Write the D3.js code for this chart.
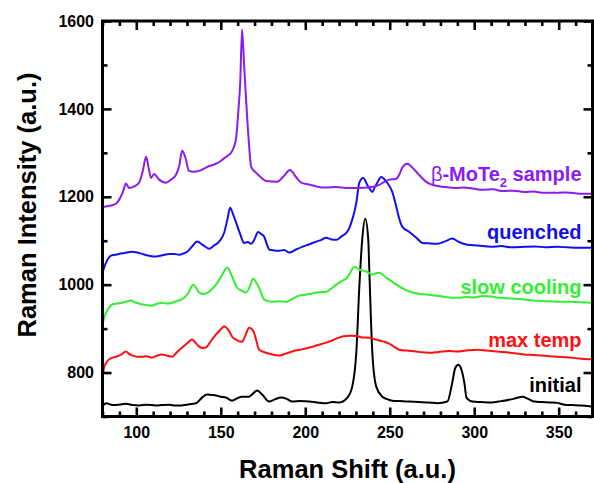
<!DOCTYPE html>
<html>
<head>
<meta charset="utf-8">
<script src="https://cdn.jsdelivr.net/npm/d3@7"></script>
<style>
  html, body { margin: 0; padding: 0; background: #fff; }
  svg { display: block; font-family: Arial, "Liberation Sans", sans-serif; }
</style>
</head>
<body>
<svg id="chart" width="594" height="483"></svg>
<script>
// Raman spectra: [shift, intensity] pairs for each sample state
const initial = [
  [80,723],[82.1,730],[86,726],[89.8,727],[94,729],[98,726],[101.6,725],[106,727],[111.7,725],
  [115,726],[119.4,727],[122,725],[125.3,725],[130,727],[135.4,730],[138.9,743],[141.9,750],
  [144.5,749],[147.2,748],[150,745],[153.2,743],[156.7,736],[159.5,741],[162.6,745],[166.8,745],
  [169,752],[171.5,759],[174.5,750],[178.6,734],[182,739],[185.7,743],[189,740],[192.3,734],
  [197,735],[202.4,734],[207,732],[212.4,730],[216,733],[220.2,732],[224.9,743],[227.8,768],
  [230.2,845],[232,995],[233.7,1102],[235.5,1150],[237.3,1102],[237.9,1034],[239.7,845],
  [242,768],[245.6,745],[248,740],[251.5,736],[256,735],[261.6,734],[267,733],[273.4,732],
  [278.2,730],[284.1,734],[287,777],[288.8,811],[290.6,818],[292.4,807],[294.3,773],[295.4,743],
  [299,734],[304,733],[310.1,732],[316,735],[321.9,739],[325,742],[328.5,745],[332,740],
  [335.6,734],[340,733],[345.7,732],[349,731],[353.4,727],[358,726],[363,725],[369.4,723]
];
const maxTemp = [
  [80,789],[80.9,811],[82.2,822],[83.9,830],[86,834],[88,836],[91,841],[93.9,848],[95.5,843],
  [97.5,839],[100.5,836],[103.4,836],[106,837],[109.3,834],[112,838],[115.2,841],[118,839],
  [121.2,836],[124,846],[127.1,857],[130,866],[133,875],[135,868],[137.2,859],[139,856],
  [141.3,857],[143.5,868],[146.1,882],[149,894],[152,905],[154.5,897],[156.7,882],[159.5,874],
  [162.6,870],[164.5,884],[166.8,902],[168.3,899],[169.7,891],[171.2,870],[172.7,852],[176.9,845],
  [180.5,841],[184.6,839],[188.5,843],[192.3,848],[197,852],[202.4,857],[207,862],[212.4,868],
  [216,873],[220.2,880],[224,883],[227.2,884],[230.5,883],[233.7,880],[238,879],[242,875],
  [246,871],[249.7,866],[252.5,859],[255.6,852],[260,850],[265.7,848],[269,846],[273.4,845],
  [279,847],[285,849],[290,848],[295,850],[301.9,852],[307,850],[313,848],[319,846],[324,844],
  [329.7,841],[335,840],[342,838],[349.3,836],[355,835],[362,832],[369.4,830]
];
const slowCooling = [
  [80,909],[81,925],[82.1,936],[83.8,947],[85.6,955],[88.5,957],[91.6,959],[94,961],[96.9,964],
  [99,960],[101.6,957],[105,954],[108.7,952],[112,956],[115.2,959],[118,957],[121.2,959],
  [125,964],[128.3,970],[131.2,984],[133.6,1000],[135.4,993],[137.2,982],[139.2,979],[141.3,980],
  [144.5,989],[147.2,1000],[150.2,1018],[153.8,1039],[156.5,1020],[159.7,993],[162.5,986],
  [165,982],[167.2,996],[169.2,1014],[170.8,1006],[172.7,993],[175.7,966],[180.4,961],
  [184.5,962],[188.7,961],[192.5,968],[196.4,975],[200,977],[204.1,980],[208,983],[212.4,984],
  [215.5,991],[218.3,1000],[221.5,1008],[224.8,1016],[227,1030],[229,1041],[232,1034],
  [234,1032],[236.1,1030],[239.7,1023],[241.8,1026],[243.8,1027],[247.9,1016],[251,1008],
  [253.9,1000],[258.5,990],[263.3,982],[268,979],[273.4,977],[278,975],[283,972],[290,970],
  [295,972],[300,971],[305,974],[310.1,973],[315,970],[320,969],[325,968],[329.7,966],
  [335,964],[341,963],[349.3,961],[355,961],[362,960],[369.4,959]
];
const quenched = [
  [80,1027],[82.1,1050],[83.5,1060],[85,1066],[87.5,1068],[89.8,1070],[93,1072],[97.5,1075],
  [100.5,1073],[103.4,1070],[107.5,1066],[111.7,1064],[115.5,1067],[119.4,1070],[122.5,1070],
  [125.3,1068],[128,1071],[130.1,1075],[133,1087],[136,1098],[139.5,1090],[143.1,1082],
  [146,1089],[149,1098],[152,1118],[154,1150],[155.5,1175],[157.3,1160],[159.1,1141],
  [161.5,1115],[163.8,1095],[166,1097],[168,1093],[169.8,1102],[172.1,1120],[174,1115],
  [175.7,1109],[177.2,1093],[178.6,1080],[181.5,1078],[184.6,1077],[187.5,1079],[190.5,1073],
  [194.5,1080],[198.2,1086],[202.5,1092],[206.5,1098],[209.5,1102],[212.4,1107],[215.5,1103],
  [218.3,1102],[221.5,1110],[224.3,1118],[226.2,1130],[227.8,1148],[229,1165],[230.2,1186],
  [232,1232],[234.3,1243],[236.7,1227],[238.2,1218],[239.7,1211],[241.2,1222],[242.6,1232],
  [245,1245],[246.8,1240],[248.5,1232],[251.5,1211],[253.9,1177],[255.5,1152],[257.4,1132],
  [261.6,1120],[265.7,1107],[269.3,1095],[273,1094],[278.2,1093],[283,1099],[287,1105],
  [291,1097],[295.9,1091],[302,1089],[310.1,1086],[316,1088],[322,1085],[329.7,1086],
  [336,1087],[342,1085],[349.3,1086],[355,1085],[362,1084],[369.4,1084]
];
const betaSample = [
  [80,1177],[83.5,1179],[86.8,1182],[88.5,1186],[89.8,1193],[92,1210],[93.9,1230],[95.7,1220],
  [98.5,1223],[101.6,1232],[103.8,1258],[105.8,1291],[107.2,1268],[108.7,1243],[110.5,1252],
  [113.5,1239],[117.6,1232],[120.5,1239],[123.5,1250],[125.5,1272],[127.1,1305],[129,1290],
  [131.2,1259],[134,1257],[137.2,1259],[140,1264],[143.1,1270],[146.5,1274],[150.2,1282],
  [153.8,1293],[156.1,1300],[157.8,1314],[159.1,1334],[160.5,1400],[161.5,1459],[162.6,1580],
  [163.8,1500],[165,1420],[166.5,1330],[168,1268],[170.5,1256],[172.7,1248],[176.9,1236],
  [180,1235],[183.4,1234],[187,1246],[191,1261],[194.5,1245],[197.6,1232],[202,1228],
  [207.1,1223],[212,1221],[218.3,1222],[224,1220],[231.9,1220],[237,1221],[243.8,1227],
  [246.8,1234],[249.7,1239],[253.9,1241],[255.8,1252],[257.4,1266],[260.4,1275],[263,1268],
  [265.7,1257],[268.5,1245],[271.6,1234],[277.6,1225],[283,1222],[289,1220],[294,1221],
  [300.1,1218],[305,1216],[311,1217],[317,1213],[323,1214],[329.7,1211],[335,1212],
  [341,1209],[349.3,1209],[355,1210],[362,1207],[369.4,1207]
];

const seriesNames = ["initial", "max temp", "slow cooling", "quenched", "\u03b2-MoTe2 sample"];
const seriesData = [initial, maxTemp, slowCooling, quenched, betaSample];
const seriesColors = ["#000000", "#ff1010", "#33ee33", "#1010ee", "#8b1cf0"];
// label anchor point (end of text) in data units
const labelX = [363.5, 363.5, 363.5, 363.5, 363.5];
const labelY = [755, 859, 978, 1103, 1235];

const xMajor = [100, 150, 200, 250, 300, 350];
const xMinor = d3.range(80, 371, 10).filter(v => v % 50 !== 0);
const yMajor = [800, 1000, 1200, 1400, 1600];
const yMinor = [700, 900, 1100, 1300, 1500];

const svg = d3.select("#chart");
const margin = { left: 102.5, right: 1.5, top: 21, bottom: 66.5 };
const W = 594, H = 483;
const x = d3.scaleLinear().domain([80, 370]).range([margin.left, W - margin.right]);
const y = d3.scaleLinear().domain([700, 1600]).range([H - margin.bottom, margin.top]);

const defs = svg.append("defs");
defs.append("clipPath").attr("id", "plotclip").append("rect")
  .attr("x", x(80)).attr("y", y(1600)).attr("width", x(370) - x(80)).attr("height", y(700) - y(1600));

// spectra
const line = d3.line().x(d => x(d[0])).y(d => y(d[1])).curve(d3.curveMonotoneX);
const plot = svg.append("g").attr("clip-path", "url(#plotclip)");
seriesData.forEach((s, i) => {
  plot.append("path").datum(s)
    .attr("d", line)
    .attr("fill", "none")
    .attr("stroke", seriesColors[i])
    .attr("stroke-width", 2)
    .attr("stroke-linejoin", "round");
});

// axes with inward ticks
function styleAxis(g) {
  g.select(".domain").remove();
  g.selectAll(".tick line").attr("stroke", "#000").attr("stroke-width", 2.6);
  g.selectAll(".tick text").attr("fill", "#000").attr("font-weight", "bold").attr("font-size", 16);
}
const bottomY = y(700), topY = y(1600), leftX = x(80), rightX = x(370);

svg.append("g").attr("transform", `translate(0,${bottomY})`)
  .call(d3.axisBottom(x).tickValues(xMajor).tickSize(-9).tickPadding(10).tickFormat(d3.format("d")))
  .call(styleAxis);
svg.append("g").attr("transform", `translate(0,${bottomY})`)
  .call(d3.axisBottom(x).tickValues(xMinor).tickSize(-5).tickFormat(""))
  .call(styleAxis);
svg.append("g").attr("transform", `translate(0,${topY})`)
  .call(d3.axisTop(x).tickValues(xMajor).tickSize(-9).tickFormat(""))
  .call(styleAxis);
svg.append("g").attr("transform", `translate(0,${topY})`)
  .call(d3.axisTop(x).tickValues(xMinor).tickSize(-5).tickFormat(""))
  .call(styleAxis);

svg.append("g").attr("transform", `translate(${leftX},0)`)
  .call(d3.axisLeft(y).tickValues(yMajor).tickSize(-9).tickPadding(8.5).tickFormat(d3.format("d")))
  .call(styleAxis);
svg.append("g").attr("transform", `translate(${leftX},0)`)
  .call(d3.axisLeft(y).tickValues(yMinor).tickSize(-5).tickFormat(""))
  .call(styleAxis);
svg.append("g").attr("transform", `translate(${rightX},0)`)
  .call(d3.axisRight(y).tickValues(yMajor).tickSize(-9).tickFormat(""))
  .call(styleAxis);
svg.append("g").attr("transform", `translate(${rightX},0)`)
  .call(d3.axisRight(y).tickValues(yMinor).tickSize(-5).tickFormat(""))
  .call(styleAxis);

// frame
svg.append("rect")
  .attr("x", leftX).attr("y", topY)
  .attr("width", rightX - leftX).attr("height", bottomY - topY)
  .attr("fill", "none").attr("stroke", "#000").attr("stroke-width", 3);

// axis titles
svg.append("text")
  .attr("x", (leftX + rightX) / 2).attr("y", 478)
  .attr("text-anchor", "middle").attr("font-weight", "bold").attr("font-size", 25.5)
  .text("Raman Shift (a.u.)");
svg.append("text")
  .attr("transform", `translate(36,${205}) rotate(-90)`)
  .attr("text-anchor", "middle").attr("font-weight", "bold").attr("font-size", 25.5)
  .text("Raman Intensity (a.u.)");

// series labels
const labels = svg.append("g").attr("font-weight", "bold").attr("font-size", 20).attr("text-anchor", "end");
seriesNames.forEach((name, i) => {
  const t = labels.append("text")
    .attr("x", x(labelX[i])).attr("y", y(labelY[i]))
    .attr("fill", seriesColors[i]);
  if (name.indexOf("MoTe2") >= 0) {
    t.append("tspan").attr("font-weight", "normal").text("\u03b2");
    t.append("tspan").text("-MoTe");
    t.append("tspan").attr("font-size", 13).attr("dy", 6).text("2");
    t.append("tspan").attr("dy", -6).text(" sample");
  } else {
    t.text(name);
  }
});
</script>
</body>
</html>
